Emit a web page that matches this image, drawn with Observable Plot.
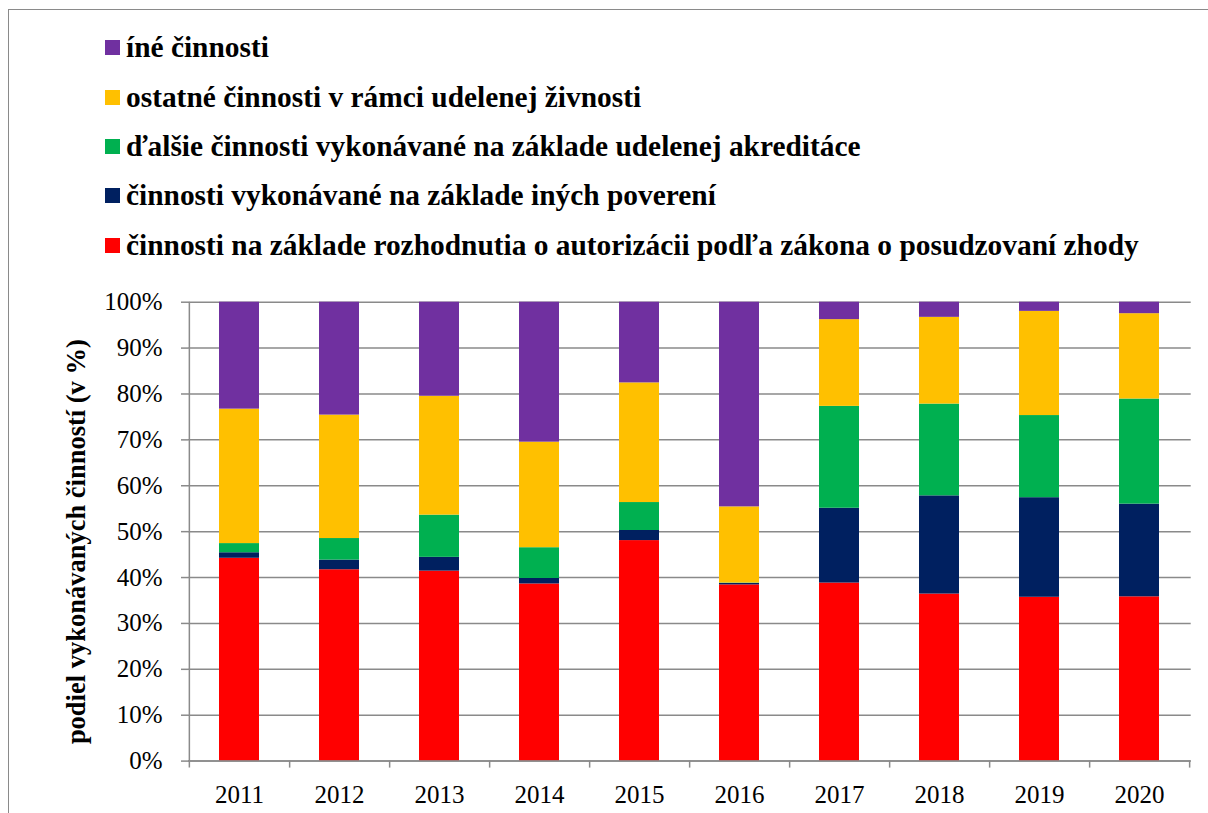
<!DOCTYPE html>
<html>
<head>
<meta charset="utf-8">
<script src="https://cdn.jsdelivr.net/npm/d3@7"></script>
<script src="https://cdn.jsdelivr.net/npm/@observablehq/plot@0.6"></script>
<style>
  body { margin:0; background:#fff; }
  #root { position:relative; width:1208px; height:813px; overflow:hidden; background:#fff; font-family:"Liberation Serif","Times New Roman",serif; }
  #frame { position:absolute; left:8px; top:9px; width:1300px; height:900px; border:1.5px solid #8a8a8a; box-sizing:border-box; }
  .lrow { position:absolute; left:105px; height:30px; line-height:30px; font-weight:bold; font-size:29.4px; white-space:nowrap; color:#000; }
  .lsw { position:absolute; left:0; width:15px; height:15px; }
  .ltx { position:absolute; left:21px; top:0; }
  #chart { position:absolute; left:0; top:280px; }
</style>
</head>
<body>
<div id="root">
  <div id="frame"></div>
  <div id="legend"></div>
  <div id="chart"></div>
</div>
<script>
const years = ["2011","2012","2013","2014","2015","2016","2017","2018","2019","2020"];
const seriesNames = [
  "činnosti na základe rozhodnutia o autorizácii podľa zákona o posudzovaní zhody",
  "činnosti vykonávané na základe iných poverení",
  "ďalšie činnosti vykonávané na základe udelenej akreditáce",
  "ostatné činnosti v rámci udelenej živnosti",
  "íné činnosti"
];
const seriesColors = ["#FF0000", "#002060", "#00B050", "#FFC000", "#7030A0"];
const autorizacia = [44.2, 41.7, 41.4, 38.6, 48.1, 38.4, 38.8, 36.4, 35.7, 35.8];
const inePoverenia = [1.2, 2.1, 3.0, 1.2, 2.2, 0.3, 16.3, 21.4, 21.7, 20.2];
const akreditacia = [2.0, 4.7, 9.2, 6.7, 6.1, 0.1, 22.2, 20.0, 17.9, 22.9];
const zivnost = [29.3, 26.9, 25.9, 23.0, 26.1, 16.6, 18.9, 18.9, 22.7, 18.6];
const ineCinnosti = [23.3, 24.6, 20.5, 30.5, 17.6, 44.6, 3.8, 3.3, 2.0, 2.5];
const yTicks = [0, 0.1, 0.2, 0.3, 0.4, 0.5, 0.6, 0.7, 0.8, 0.9, 1.0];
const yTitle = "podiel vykonávaných činností (v %)";

const seriesValues = [autorizacia, inePoverenia, akreditacia, zivnost, ineCinnosti];
const data = [];
seriesNames.forEach((s, si) => years.forEach((y, yi) => data.push({year: y, series: s, value: seriesValues[si][yi]})));

// Legend (top to bottom: reverse of stack order)
const legend = document.getElementById("legend");
const legendOrder = [4, 3, 2, 1, 0];
legendOrder.forEach((si, k) => {
  const row = document.createElement("div");
  row.className = "lrow";
  row.style.top = (32.3 + k * 49.3) + "px";
  const sw = document.createElement("div");
  sw.className = "lsw";
  sw.style.background = seriesColors[si];
  sw.style.top = "8px";
  const tx = document.createElement("div");
  tx.className = "ltx";
  tx.textContent = seriesNames[si];
  row.appendChild(sw); row.appendChild(tx);
  legend.appendChild(row);
});

const W = 1208, H = 533;
const mL = 188, mR = 17.3, mT = 21.7, mB = 52.4;
const step = (W - mL - mR) / years.length;
const tickLen = 7 / (H - mT - mB);
const gray = "#8a8a8a";

const chart = Plot.plot({
  width: W,
  height: H,
  marginLeft: mL,
  marginRight: mR,
  marginTop: mT,
  marginBottom: mB,
  style: {fontFamily: "Liberation Serif, Times New Roman, serif", fontSize: "25px", color: "#000", background: "transparent"},
  x: {type: "band", domain: years, padding: 0, label: null},
  y: {domain: [0, 1], label: null},
  color: {domain: seriesNames, range: seriesColors},
  marks: [
    Plot.gridY(yTicks, {stroke: gray, strokeOpacity: 1, strokeWidth: 1.5}),
    Plot.barY(data, Plot.stackY({x: "year", y: "value", fill: "series", order: seriesNames, offset: "normalize", insetLeft: 30, insetRight: 30})),
    Plot.ruleY([0], {stroke: gray, strokeWidth: 1.5}),
    Plot.ruleX([years[0]], {x: d => d, y1: -tickLen, y2: 1, dx: -step / 2, stroke: gray, strokeWidth: 1.5}),
    Plot.ruleX(years, {x: d => d, y1: 0, y2: -tickLen, dx: step / 2, stroke: gray, strokeWidth: 1.5}),
    Plot.axisY(yTicks, {tickFormat: d3.format(".0%"), tickSize: 7, tickPadding: 19, stroke: gray, strokeWidth: 1.5, label: null, fontSize: 25}),
    Plot.axisX({tickSize: 0, tickPadding: 24, label: null, fontSize: 25}),
    Plot.text([yTitle], {frameAnchor: "left", text: d => d, rotate: -90, textAnchor: "middle", dx: -112, dy: 10, fontWeight: "bold", fontSize: 26.5, fill: "#000"})
  ]
});
document.getElementById("chart").appendChild(chart);
</script>
</body>
</html>
